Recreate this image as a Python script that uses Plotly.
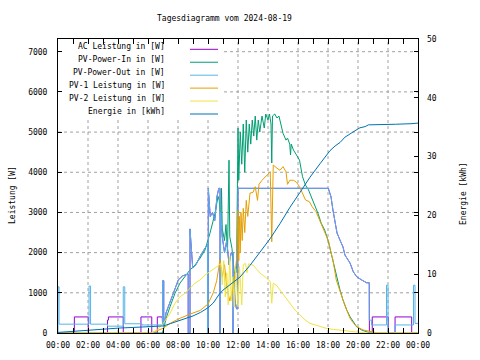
import plotly.graph_objects as go

FONT = "DejaVu Sans Mono"

title_text = "Tagesdiagramm vom 2024-08-19"
x_tick_vals = [0, 2, 4, 6, 8, 10, 12, 14, 16, 18, 20, 22, 24]
x_tick_text = ["00:00", "02:00", "04:00", "06:00", "08:00", "10:00", "12:00",
               "14:00", "16:00", "18:00", "20:00", "22:00", "00:00"]
y_left_ticks = [0, 1000, 2000, 3000, 4000, 5000, 6000, 7000]
y_right_ticks = [0, 10, 20, 30, 40, 50]

series_names = ["AC Leistung in [W]", "PV-Power-In in [W]", "PV-Power-Out in [W]",
                "PV-1 Leistung in [W]", "PV-2 Leistung in [W]", "Energie in [kWh]"]
series_colors = ["#9400d3", "#009e73", "#56b4e9", "#e69f00", "#f0e442", "#0072b2"]

# PV-Power-Out (W)
pv_out_h = [0.00, 0.00, 0.07, 0.07, 2.07, 2.07, 2.17, 2.17, 3.30, 3.30, 4.35, 4.35, 4.45, 4.45,
            5.60, 5.60, 6.97, 6.97, 7.05, 7.05,
            7.20, 7.47, 7.73, 8.02, 8.30, 8.58, 8.68, 8.68, 8.80, 8.80, 8.98, 9.20, 9.47, 9.80,
            9.97, 9.97, 10.02, 10.02, 10.15, 10.30, 10.45, 10.60, 10.72, 10.80, 10.80, 10.85,
            10.95, 11.10, 11.25, 11.40, 11.55, 11.67, 11.67, 11.72, 11.80, 11.90, 11.98,
            12.00, 18.02, 18.20, 18.33, 18.47, 18.60, 18.80, 19.00, 19.13, 19.47, 19.68, 19.91,
            20.24, 20.58, 20.75, 20.75, 20.90, 20.90, 21.90, 21.90, 22.00, 22.00, 22.47, 22.47,
            23.70, 23.70, 23.80, 23.80, 24.00]
pv_out_w = [0, 1150, 1150, 220, 220, 1170, 1170, 220, 220, 170, 170, 1150, 1150, 230,
            230, 200, 200, 1300, 1300, 150,
            500, 780, 1050, 1320, 1420, 1470, 1470, 0, 0, 2590, 1620, 1700, 1910, 2110,
            2200, 0, 0, 3600, 2900, 3000, 2800, 3400, 3600, 3600, 0, 3000,
            2400, 2000, 2300, 1700, 2000, 2000, 0, 1500, 800, 600, 600,
            3600, 3600, 3390, 3060, 2740, 2490, 2310, 2140, 1940, 1740, 1530, 1400,
            1320, 1250, 1250, 320, 320, 200, 200, 1190, 1190, 0, 0, 200,
            200, 1190, 1190, 240, 240]

# AC Leistung (W): night segments; during the day it equals PV-Power-Out
ac_night_h = [0.00, 1.09, 1.09, 2.02, 2.02, 3.30, 3.30, 3.36, 3.36, 4.35, 4.35, 5.53, 5.53,
              6.25, 6.25, 6.62, 6.62, 6.95]
ac_night_w = [0, 0, 400, 400, 0, 0, 320, 320, 400, 400, 0, 0, 400, 400, 0, 0, 400, 400]
ac_evening_h = [20.76, 20.95, 20.95, 22.02, 22.02, 22.47, 22.47, 23.58, 23.58, 24.00]
ac_evening_w = [0, 0, 400, 400, 0, 0, 400, 400, 0, 0]

# PV-Power-In (W)
pv_in_h = [0.00, 6.95, 7.02, 7.24, 7.47, 7.80, 8.13, 8.47, 8.80, 9.13, 9.47, 9.80, 10.13, 10.47,
           10.67, 10.75, 10.85, 10.90, 10.95, 11.10, 11.20, 11.30, 11.40, 11.45, 11.60, 11.75,
           11.90, 12.00, 12.05, 12.15, 12.25, 12.35, 12.45, 12.55, 12.65, 12.75, 12.85, 12.95,
           13.05, 13.15, 13.25, 13.35, 13.45, 13.60, 13.75, 13.85, 14.00, 14.10, 14.20, 14.25,
           14.30, 14.45, 14.60, 14.73, 14.90, 15.00, 15.20, 15.30, 15.45, 15.50, 15.55, 15.70,
           15.90, 16.10, 16.30, 16.50, 16.70, 16.90, 17.10, 17.33, 17.55, 17.78, 18.00, 18.20,
           18.33, 18.55, 18.80, 19.00, 19.25, 19.47, 19.68, 19.91, 20.24, 20.58, 20.80, 24.00]
pv_in_w = [0, 0, 75, 405, 655, 990, 1240, 1400, 1570, 1690, 1860, 2065, 2480, 2980,
           3400, 3300, 2800, 3600, 2600, 2300, 2700, 2000, 4300, 2400, 2100, 1500,
           1500, 5100, 3800, 5000, 4200, 5200, 4000, 5300, 4500, 5200, 4700, 5300,
           4900, 5400, 4800, 5300, 5000, 5400, 5100, 5450, 5300, 5450, 5200, 4230,
           5400, 5450, 5350, 5400, 5100, 4970, 4800, 4850, 4700, 4430, 4700, 4550,
           4430, 4300, 3890, 3680, 3560, 3390, 3180, 2980, 2730, 2560, 2310, 2000,
           1820, 1400, 1070, 820, 570, 405, 280, 155, 75, 25, 0, 0]

# PV-1 Leistung (W)
pv1_h = [0.00, 6.20, 6.50, 7.02, 7.47, 8.13, 8.80, 9.47, 10.00, 10.35, 10.58, 10.80, 10.95,
         11.10, 11.25, 11.45, 11.60, 11.75, 11.90, 12.00, 12.05, 12.10, 12.15, 12.20, 12.28,
         12.35, 12.45, 12.55, 12.65, 12.80, 13.00, 13.15, 13.30, 13.40, 13.60, 13.90, 14.15,
         14.25, 14.35, 14.60, 14.80, 15.00, 15.20, 15.30, 15.45, 15.70, 15.90, 16.10, 16.30,
         16.50, 16.75, 16.95, 17.20, 17.40, 17.60, 17.85, 18.05, 18.20, 18.33, 18.55, 18.80,
         19.00, 19.25, 19.47, 19.68, 19.91, 20.35, 20.80, 21.20, 21.47, 24.00]
pv1_w = [0, 0, 40, 120, 240, 365, 470, 560, 720, 1000, 1300, 1820, 1400,
         1700, 1150, 800, 1000, 1240, 1820, 3050, 1800, 2900, 2000, 3000, 2300,
         3100, 2500, 3300, 2900, 3480, 3500, 3640, 3300, 3700, 3800, 3930, 4010,
         2270, 4180, 4100, 4050, 4140, 4010, 3700, 3800, 3800, 3750, 3640, 3475,
         3310, 3270, 3140, 3020, 2850, 2690, 2480, 2270, 2000, 1820, 1320, 1030,
         820, 570, 365, 255, 155, 75, 35, 10, 0, 0]

# PV-2 Leistung (W)
pv2_h = [0.00, 6.25, 6.60, 7.02, 7.47, 7.80, 8.13, 8.47, 8.80, 9.13, 9.47, 9.80, 10.13, 10.47,
         10.75, 10.85, 10.95, 11.05, 11.15, 11.25, 11.35, 11.45, 11.55, 11.65, 11.75, 11.85,
         11.95, 12.00, 12.10, 12.25, 12.35, 12.50, 12.60, 12.70, 13.00, 13.30, 13.50, 13.80,
         14.15, 14.25, 14.35, 14.60, 14.80, 15.13, 15.47, 15.80, 16.13, 16.47, 16.80, 17.13,
         17.47, 17.90, 18.35, 18.80, 19.50, 20.00, 20.50, 24.00]
pv2_w = [0, 0, 80, 240, 490, 740, 900, 990, 1110, 1240, 1320, 1440, 1530, 1610,
         1690, 1730, 1200, 1800, 900, 1500, 700, 1900, 800, 1400, 650, 1600,
         900, 650, 1650, 700, 1700, 1730, 1500, 1720, 1690, 1570, 1480, 1400,
         1280, 740, 1240, 1170, 1070, 900, 740, 570, 450, 325, 240, 200,
         155, 115, 90, 75, 40, 20, 0, 0]

# Energie (kWh)
energy_h = [0.00, 1.00, 2.00, 3.20, 4.13, 5.47, 7.02, 7.50, 8.00, 8.50, 9.00, 9.50, 10.00,
            10.35, 10.75, 11.00, 11.47, 12.13, 12.80, 13.47, 14.13, 14.80, 15.47, 16.13,
            16.80, 17.47, 18.13, 18.47, 18.80, 19.13, 19.47, 19.80, 20.13, 20.47, 20.70,
            22.00, 22.50, 23.60, 24.00]
energy_kwh = [0.1, 0.3, 0.5, 0.7, 0.85, 1.0, 1.2, 1.6, 2.0, 2.4, 2.9, 3.5, 4.3,
              5.1, 6.6, 7.3, 8.2, 9.5, 11.5, 13.8, 16.0, 18.6, 21.4, 23.9,
              26.5, 28.8, 31.0, 31.8, 32.4, 33.3, 33.9, 34.4, 34.9, 35.1, 35.4,
              35.4, 35.5, 35.6, 35.7]

# AC day part taken from PV-Power-Out
ac_day = [(h, w) for h, w in zip(pv_out_h, pv_out_w) if 6.96 <= h <= 20.755]
ac_h = ac_night_h + [p[0] for p in ac_day] + ac_evening_h
ac_w = ac_night_w + [p[1] for p in ac_day] + ac_evening_w

for a, b in [(pv_out_h, pv_out_w), (pv_in_h, pv_in_w), (pv1_h, pv1_w), (pv2_h, pv2_w),
             (energy_h, energy_kwh)]:
    assert len(a) == len(b), (len(a), len(b))

Y_MAX = 7316
fig = go.Figure()
data_sets = [(ac_h, ac_w, "y"), (pv_in_h, pv_in_w, "y"), (pv_out_h, pv_out_w, "y"),
             (pv1_h, pv1_w, "y"), (pv2_h, pv2_w, "y"), (energy_h, energy_kwh, "y2")]
for (xs, ys, ax), name, col in zip(data_sets, series_names, series_colors):
    fig.add_trace(go.Scatter(x=xs, y=ys, mode="lines", name=name, yaxis=ax,
                             line=dict(color=col, width=1), showlegend=False))

tick_font = dict(family=FONT, size=8, color="black")

fig.update_layout(
    width=480, height=360,
    margin=dict(l=58, r=62, t=39, b=27, autoexpand=False),
    paper_bgcolor="white", plot_bgcolor="white",
    font=dict(family=FONT, size=8, color="black"),
    showlegend=False,
    xaxis=dict(range=[0, 24], tickvals=x_tick_vals, ticktext=x_tick_text,
               ticks="inside", ticklen=5, tickcolor="black", tickwidth=1,
               showline=True, linecolor="black", linewidth=1, mirror="allticks",
               zeroline=False, showgrid=False, tickfont=tick_font, ticklabelstandoff=4,
               automargin=False,
               minor=dict(dtick=1, ticks="inside", ticklen=3, tickcolor="black", showgrid=False)),
    yaxis=dict(range=[0, Y_MAX], tickvals=y_left_ticks,
               ticks="inside", ticklen=4, tickcolor="black", tickwidth=1,
               showline=True, linecolor="black", linewidth=1, mirror="allticks",
               zeroline=False, showgrid=False, tickfont=tick_font, ticklabelstandoff=8,
               automargin=False),
    yaxis2=dict(range=[0, 50], tickvals=y_right_ticks, overlaying="y", side="right",
                ticks="inside", ticklen=4, tickcolor="black", tickwidth=1,
                showline=False, showgrid=False, zeroline=False, tickfont=tick_font,
                ticklabelstandoff=8, automargin=False),
)

PW, PH, L, T = 360.0, 294.0, 58.0, 39.0


def px(xp):
    return (xp - L) / PW


def py(yp):
    return 1 - (yp - T) / PH


# legend box (opaque) edges in data units
KEY_RIGHT_H = (224 - L) / 15.0
KEY_BOTTOM_W = (333 - 119) / 294.0 * Y_MAX

grid_line = dict(color="#a0a0a0", width=1, dash="3px,3px")
shapes = []
for h in x_tick_vals[1:-1]:
    top = KEY_BOTTOM_W if h < KEY_RIGHT_H else Y_MAX
    shapes.append(dict(type="line", xref="x", yref="y", x0=h, x1=h, y0=0, y1=top,
                       line=grid_line, layer="below"))
for w in y_left_ticks[1:]:
    left = KEY_RIGHT_H if w > KEY_BOTTOM_W else 0
    shapes.append(dict(type="line", xref="x", yref="y", x0=left, x1=24, y0=w, y1=w,
                       line=grid_line, layer="below"))

annotations = []
for i, (name, col) in enumerate(zip(series_names, series_colors)):
    ly = 49.3 + 12.94 * i
    shapes.append(dict(type="line", xref="paper", yref="paper", x0=px(190), x1=px(218),
                       y0=py(ly), y1=py(ly), line=dict(color=col, width=1), layer="above"))
    annotations.append(dict(text=name, xref="paper", yref="paper", x=px(167), y=py(ly - 2.5),
                            xanchor="right", yanchor="middle", showarrow=False,
                            font=dict(family=FONT, size=8, color="black")))

annotations.append(dict(text=title_text, xref="paper", yref="paper", x=px(224), y=py(18),
                        xanchor="center", yanchor="middle", showarrow=False,
                        font=dict(family=FONT, size=8, color="black")))
annotations.append(dict(text="Leistung [W]", xref="paper", yref="paper", x=px(12), y=py(195),
                        textangle=-90, xanchor="center", yanchor="middle", showarrow=False,
                        font=dict(family=FONT, size=8, color="black")))
annotations.append(dict(text="Energie [kWh]", xref="paper", yref="paper", x=px(463), y=py(194),
                        textangle=-90, xanchor="center", yanchor="middle", showarrow=False,
                        font=dict(family=FONT, size=8, color="black")))

fig.update_layout(shapes=shapes, annotations=annotations)
fig.write_html("out.html", config={"displayModeBar": False},
               post_script="document.body.style.margin='0px';")
